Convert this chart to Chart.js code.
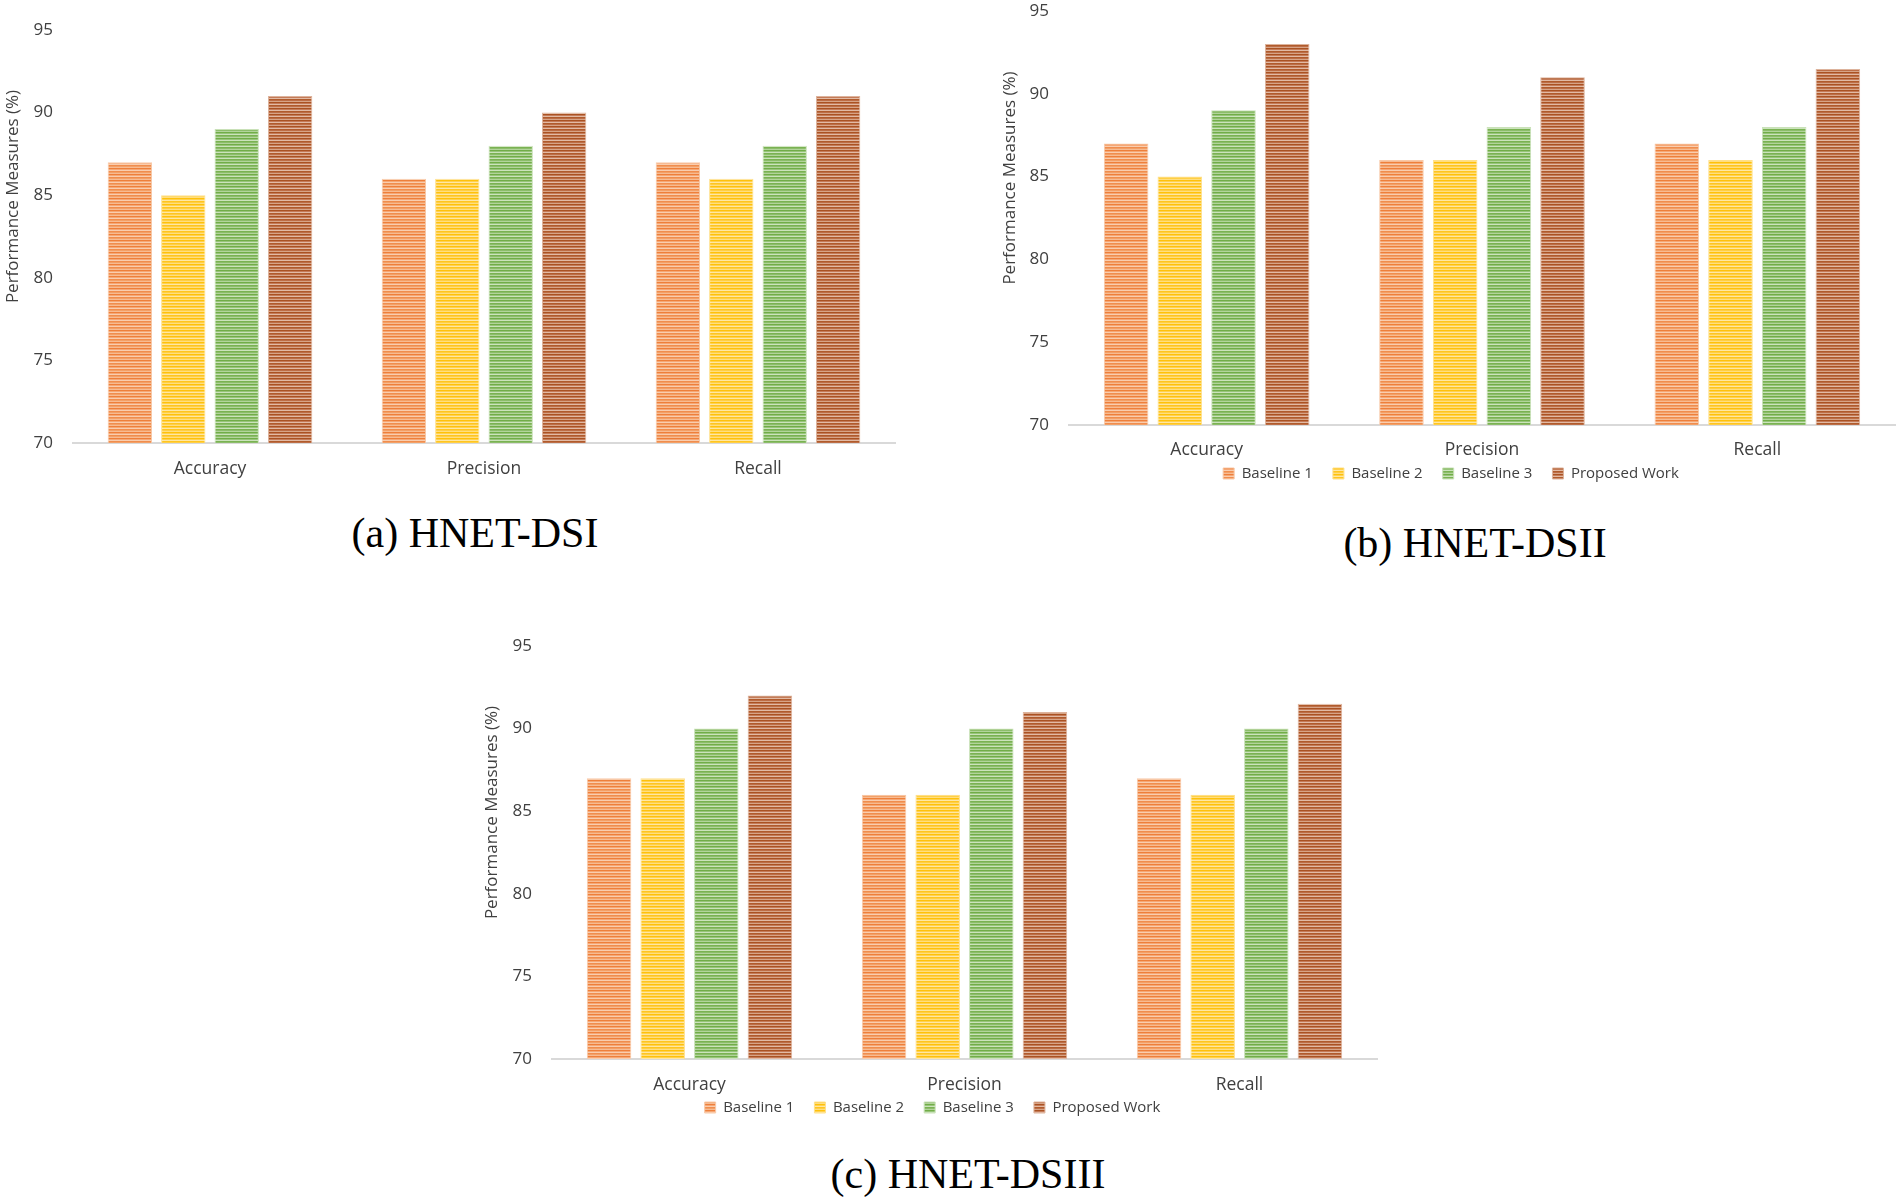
<!DOCTYPE html>
<html>
<head>
<meta charset="utf-8">
<script src="https://cdn.jsdelivr.net/npm/chart.js@4.4.1/dist/chart.umd.min.js"></script>
<style>
  body { margin: 0; background: #fff; width: 1900px; height: 1199px; position: relative; overflow: hidden; }
  .box { position: absolute; }
  .cap { position: absolute; font-family: "Liberation Serif", "Times New Roman", serif; font-size: 42px;
         line-height: 42px; color: #000; white-space: nowrap; transform: translateX(-50%); }
</style>
</head>
<body>
<div class="box" style="left:0px;top:0px;width:905px;height:490px"><canvas id="chartA"></canvas></div>
<div class="box" style="left:990px;top:0px;width:910px;height:491px"><canvas id="chartB"></canvas></div>
<div class="box" style="left:470px;top:600px;width:920px;height:525px"><canvas id="chartC"></canvas></div>
<div class="cap" style="left:475px;top:512px">(a) HNET-DSI</div>
<div class="cap" style="left:1475px;top:522px">(b) HNET-DSII</div>
<div class="cap" style="left:968px;top:1153px">(c) HNET-DSIII</div>

<script>
// data
const categories = ['Accuracy', 'Precision', 'Recall'];
const seriesNames = ['Baseline 1', 'Baseline 2', 'Baseline 3', 'Proposed Work'];
const yTicks = [70, 75, 80, 85, 90, 95];
const yTitle = 'Performance Measures (%)';

// (a) HNET-DSI
const dsiB1 = [87, 86, 87];
const dsiB2 = [85, 86, 86];
const dsiB3 = [89, 88, 88];
const dsiPW = [91, 90, 91];
// (b) HNET-DSII
const dsiiB1 = [87, 86, 87];
const dsiiB2 = [85, 86, 86];
const dsiiB3 = [89, 88, 88];
const dsiiPW = [93, 91, 91.5];
// (c) HNET-DSIII
const dsiiiB1 = [87, 86, 87];
const dsiiiB2 = [87, 86, 86];
const dsiiiB3 = [90, 90, 90];
const dsiiiPW = [92, 91, 91.5];

const textColor = '#404040';

// striped fills like the excel texture
function stripes(rows) {
  const c = document.createElement('canvas');
  c.width = 8; c.height = rows.length;
  const g = c.getContext('2d');
  rows.forEach((col, i) => { g.fillStyle = col; g.fillRect(0, i, 8, 1); });
  return g.createPattern(c, 'repeat');
}
const fills = [
  stripes(['#EE7F3A', '#F5A775', '#F9CDAE', '#F08D4E', '#F3A067', '#F7BB92']),
  stripes(['#FFC10A', '#FFD14E', '#FFE7A3', '#FFC520', '#FFCF45', '#FFDE80']),
  stripes(['#71AD47', '#97C47A', '#CBE3BB', '#7AB252', '#8CBD6A', '#B2D49B']),
  stripes(['#AA5222', '#C47B58', '#E2BAA4', '#B05B2C', '#BD6E47', '#D7A487'])
];
const edges = ['#F8C9A8', '#FFE08A', '#C9E1B8', '#DDB39C'];

const yTitlePlugin = {
  id: 'yTitle',
  afterDraw(chart, args, o) {
    const { ctx, chartArea } = chart;
    ctx.save();
    ctx.translate(o.x, (chartArea.top + chartArea.bottom) / 2 + o.shift);
    ctx.rotate(-Math.PI / 2);
    ctx.font = '17px "Open Sans"';
    ctx.fillStyle = textColor;
    ctx.textAlign = 'center';
    ctx.textBaseline = 'middle';
    ctx.fillText(yTitle, 0, 0);
    ctx.restore();
  }
};

function buildChart(id, values, cfg) {
  return new Chart(document.getElementById(id), {
    type: 'bar',
    data: {
      labels: categories,
      datasets: seriesNames.map((name, i) => ({
        label: name,
        data: values[i],
        backgroundColor: fills[i],
        borderColor: edges[i],
        borderWidth: 1,
        barPercentage: 0.83,
        categoryPercentage: 0.78
      }))
    },
    options: {
      responsive: true,
      maintainAspectRatio: false,
      animation: false,
      layout: { padding: cfg.padding },
      scales: {
        x: {
          grid: { display: false, drawTicks: false },
          border: { color: '#D9D9D9', width: 2 },
          ticks: { color: textColor, font: { family: 'Open Sans', size: 17.5 }, padding: cfg.xPad, maxRotation: 0 },
          afterFit(s) {
            s.height = cfg.xHeight;
            s._computeLabelArea = () => undefined; // let labels run past the short axis box
          }
        },
        y: {
          min: 70, max: 95,
          grid: { display: false, drawTicks: false },
          border: { display: false },
          ticks: { color: textColor, font: { family: 'Open Sans', size: 17 }, padding: 20 },
          afterBuildTicks(s) { s.ticks = yTicks.map(v => ({ value: v })); },
          afterFit(s) { s.width = cfg.yWidth; s.paddingTop = 10; s.paddingBottom = 10; }
        }
      },
      plugins: {
        legend: {
          display: cfg.legend,
          position: 'bottom',
          labels: { color: textColor, font: { family: 'Open Sans', size: 15 }, boxWidth: 11, boxHeight: 11, padding: 20 }
        },
        tooltip: { enabled: false },
        yTitle: { x: cfg.titleX, shift: -40 }
      }
    },
    plugins: [yTitlePlugin]
  });
}

buildChart('chartA', [dsiB1, dsiB2, dsiB3, dsiPW], {
  padding: { top: 30, right: 10, left: 0, bottom: 0 }, yWidth: 73, xHeight: 47, xPad: 16, legend: false, titleX: 13
});
buildChart('chartB', [dsiiB1, dsiiB2, dsiiB3, dsiiPW], {
  padding: { top: 11, right: 5, left: 17, bottom: 0 }, yWidth: 62, xHeight: 21, xPad: 15, legend: true, titleX: 20
});
buildChart('chartC', [dsiiiB1, dsiiiB2, dsiiiB3, dsiiiPW], {
  padding: { top: 46, right: 13, left: 18, bottom: 0 }, yWidth: 64, xHeight: 21, xPad: 15.5, legend: true, titleX: 22
});
</script>
</body>
</html>
